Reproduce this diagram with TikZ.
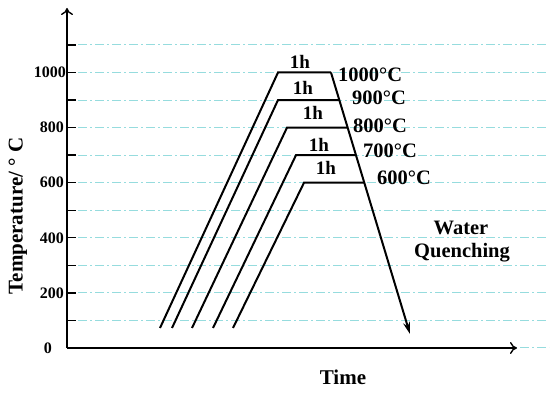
\documentclass[tikz,border=0pt]{standalone}
\usepackage{fontspec}
\setmainfont{Liberation Serif}
\usetikzlibrary{arrows.meta}
\definecolor{gridc}{RGB}{150,220,222}
\begin{document}
\begin{tikzpicture}[x=1pt,y=1pt,
  gridline/.style={gridc,line width=1pt,dash pattern=on 9pt off 3pt on 2pt off 3pt},
  axis/.style={line width=1.8pt,-{To[length=7pt,width=12pt,line width=1.4pt]}},
  path/.style={line width=2pt},
  lbl/.style={font=\bfseries\fontsize{20.5}{20.5}\selectfont,inner sep=0pt},
  hlbl/.style={font=\bfseries\fontsize{19}{19}\selectfont,inner sep=0pt},
  albl/.style={font=\bfseries\fontsize{21}{21}\selectfont,inner sep=0pt},
  tick/.style={font=\bfseries\fontsize{16}{16}\selectfont,inner sep=0pt,anchor=east}]
\useasboundingbox (0,0) rectangle (550,394);
% grid
\foreach \t in {100,200,...,1100}{
  \draw[gridline] (78,{46+0.2755*\t}) -- (547,{46+0.2755*\t});
  \draw[line width=1.4pt] (67,{46+0.2755*\t}) -- (76,{46+0.2755*\t});
}
\draw[gridline] (78,46) -- (549,46);
% axes
\coordinate (O) at (67,46);
\coordinate (ytop) at (67,386);
\coordinate (xend) at (517,46);
\draw[axis] (O) -- (ytop);
\draw[axis] (O) -- (xend);
% tick labels
\node[tick] (t0) at (52,46) {0};
\node[tick] (t200) at (64,{46+0.2755*200}) {200};
\node[tick] (t400) at (64,{46+0.2755*400}) {400};
\node[tick] (t600) at (64,{46+0.2755*600}) {600};
\node[tick] (t800) at (64,{46+0.2755*800}) {800};
\node[tick] (t1000) at (66,{46+0.2755*1000}) {1000};
% axis labels
\node[albl,rotate=90] (ylab) at (18,178) {Temperature/ ° C};
\node[albl] (xlab) at (343,17) {Time};
% cooling line
\coordinate (c0) at (331,{46+0.2755*1000});
\coordinate (cend) at (410,60);
% heating paths: bottom x, plateau left x, temperature
\foreach \bx/\lx/\t/\n in {160/278/1000/a,172/278/900/b,192/287/800/c,213/296/700/d,233/304/600/e}{
  \coordinate (b\n) at (\bx,66);
  \coordinate (l\n) at (\lx,{46+0.2755*\t});
  \coordinate (r\n) at ({331+0.3015*(0.2755*(1000-\t))},{46+0.2755*\t});
  \draw[path] (b\n) -- (l\n) -- (r\n);
}
\draw[path,-{Stealth[length=12pt,width=7pt]}] (c0) -- (cend);
% 1h labels
\node[hlbl] (h1) at (300,332) {1h};
\node[hlbl] (h2) at (303,306) {1h};
\node[hlbl] (h3) at (313,281) {1h};
\node[hlbl] (h4) at (319,249) {1h};
\node[hlbl] (h5) at (326,226) {1h};
% temperature labels
\node[lbl,anchor=west] (T1) at (338,319) {1000°C};
\node[lbl,anchor=west] (T2) at (352,296) {900°C};
\node[lbl,anchor=west] (T3) at (353,268) {800°C};
\node[lbl,anchor=west] (T4) at (363,243) {700°C};
\node[lbl,anchor=west] (T5) at (377,216) {600°C};
% quenching
\node[lbl] (w1) at (461,166) {Water};
\node[lbl] (w2) at (462,141) {Quenching};
\end{tikzpicture}
\end{document}
